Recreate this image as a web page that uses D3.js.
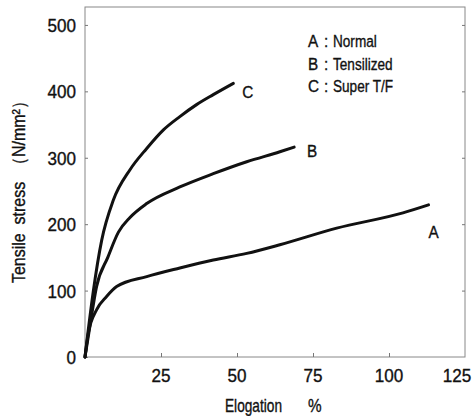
<!DOCTYPE html>
<html>
  <head>
    <meta charset="utf-8" />
    <title>Tensile stress vs elongation</title>
    <style>
      body {
        margin: 0;
        background: #fff;
      }
      svg text {
        font-family: "Liberation Sans", Arial, sans-serif;
        fill: #111;
        stroke: #111;
        stroke-width: 0.35px;
      }
      .curve {
        fill: none;
        stroke: #111;
        stroke-width: 3px;
        stroke-linecap: round;
      }
      .frame line {
        stroke: #777;
        stroke-width: 1px;
      }
    </style>
    <script src="https://d3js.org/d3.v7.min.js"></script>
  </head>
  <body>
    <div id="chart"></div>
    <script>
      // elongation (%) / stress (N/mm2)
      const elongA = [0, 1.1, 3.8, 7.1, 10.4, 20.3, 31.2, 42.2, 53.2, 64.1, 82.8, 104.6, 113];
      const stressA = [0, 36, 71, 91, 106, 121, 134, 146, 156, 169, 194, 217, 229];
      const elongB = [0, 1.6, 3.8, 7.5, 11, 14.8, 20.3, 31.2, 42.2, 53.2, 64.1, 68.8];
      const stressB = [0, 46, 106, 150, 188, 210, 231, 256, 276, 294, 309, 316];
      const elongC = [0, 1, 2.7, 5.5, 9.3, 14.8, 20.3, 25.8, 31.2, 36.7, 42.2, 48.8];
      const stressC = [0, 38, 98, 176, 236, 282, 314, 342, 362, 380, 395, 412];

      const curveNames = ["A", "B", "C"];
      const legendKeys = ["A", "B", "C"];
      const legendNames = ["Normal", "Tensilized", "Super T/F"];
      const xTicks = [25, 50, 75, 100, 125];
      const yTicks = [0, 100, 200, 300, 400, 500];

      const W = 473, H = 416;
      const pl = 85, pr = 465, pt = 7, pb = 357;

      const x = d3.scaleLinear().domain([0, 125]).range([pl, pr]);
      const y = d3.scaleLinear().domain([0, 527]).range([pb, pt]);

      const svg = d3.select("#chart").append("svg")
        .attr("width", W).attr("height", H);

      // condensed lettering: squeeze a text horizontally around its anchor
      function label(parent, str, px, py, size, sx, anchor) {
        return parent.append("text")
          .attr("transform", `translate(${px},${py}) scale(${sx},1)`)
          .attr("text-anchor", anchor || "start")
          .attr("font-size", size)
          .text(str);
      }

      // frame
      svg.append("rect")
        .attr("x", pl).attr("y", pt)
        .attr("width", pr - pl).attr("height", pb - pt)
        .attr("fill", "none").attr("stroke", "#888").attr("stroke-width", 1);

      // left axis with inward ticks
      const yAxis = svg.append("g")
        .attr("class", "frame")
        .attr("transform", `translate(${pl},0)`)
        .call(d3.axisRight(y).tickValues(yTicks).tickSize(3).tickFormat(""));
      yAxis.select(".domain").remove();

      // right border ticks, inward
      const yAxisR = svg.append("g")
        .attr("class", "frame")
        .attr("transform", `translate(${pr},0)`)
        .call(d3.axisLeft(y).tickValues(yTicks.slice(1)).tickSize(3).tickFormat(""));
      yAxisR.select(".domain").remove();

      // bottom ticks, inward
      const xAxis = svg.append("g")
        .attr("class", "frame")
        .attr("transform", `translate(0,${pb})`)
        .call(d3.axisTop(x).tickValues(xTicks.slice(0, 4)).tickSize(4).tickFormat(""));
      xAxis.select(".domain").remove();

      // tick labels
      const tl = svg.append("g");
      yTicks.forEach(d => label(tl, d, pl - 9, y(d) + 7, 18, 0.95, "end"));
      xTicks.forEach(d => label(tl, d, x(d) - (d === 125 ? 8 : 0), pb + 25, 18, 0.95, "middle"));

      // axis titles
      label(svg, "Elogation", 225, 412, 18, 0.76);
      label(svg, "%", 308, 412, 18, 0.85);

      // y title squeezed so it runs from y=283 up to y=93 like the original
      const yt = svg.append("text")
        .attr("font-size", 18)
        .attr("xml:space", "preserve")
        .text("Tensile  stress  （N/mm²）");
      const ytLen = yt.node().getComputedTextLength();
      yt.attr("transform", `translate(25,283) rotate(-90) scale(${190 / ytLen},1)`);

      // curves
      const series = [
        { name: curveNames[0], xs: elongA, ys: stressA },
        { name: curveNames[1], xs: elongB, ys: stressB },
        { name: curveNames[2], xs: elongC, ys: stressC }
      ];

      const line = d3.line()
        .x(d => x(d[0]))
        .y(d => y(d[1]))
        .curve(d3.curveMonotoneX);

      svg.append("g").selectAll("path")
        .data(series).join("path")
        .attr("class", "curve")
        .attr("d", s => line(d3.zip(s.xs, s.ys)));

      // end labels
      const labelOffset = { A: [5, 33], B: [18, 10], C: [14.5, 14.5] };
      const el = svg.append("g");
      series.forEach(s => {
        const n = s.xs.length - 1;
        label(el, s.name,
          x(s.xs[n]) + labelOffset[s.name][0],
          y(s.ys[n]) + labelOffset[s.name][1], 17, 0.9, "middle");
      });

      // legend
      const legend = svg.append("g");
      legendKeys.forEach((k, i) => {
        const by = [47, 70, 92][i];
        label(legend, k, 308, by, 17, 0.9);
        label(legend, ":", 324, by, 17, 0.9);
        label(legend, legendNames[i], 333, by, 17, 0.8);
      });
    </script>
  </body>
</html>
